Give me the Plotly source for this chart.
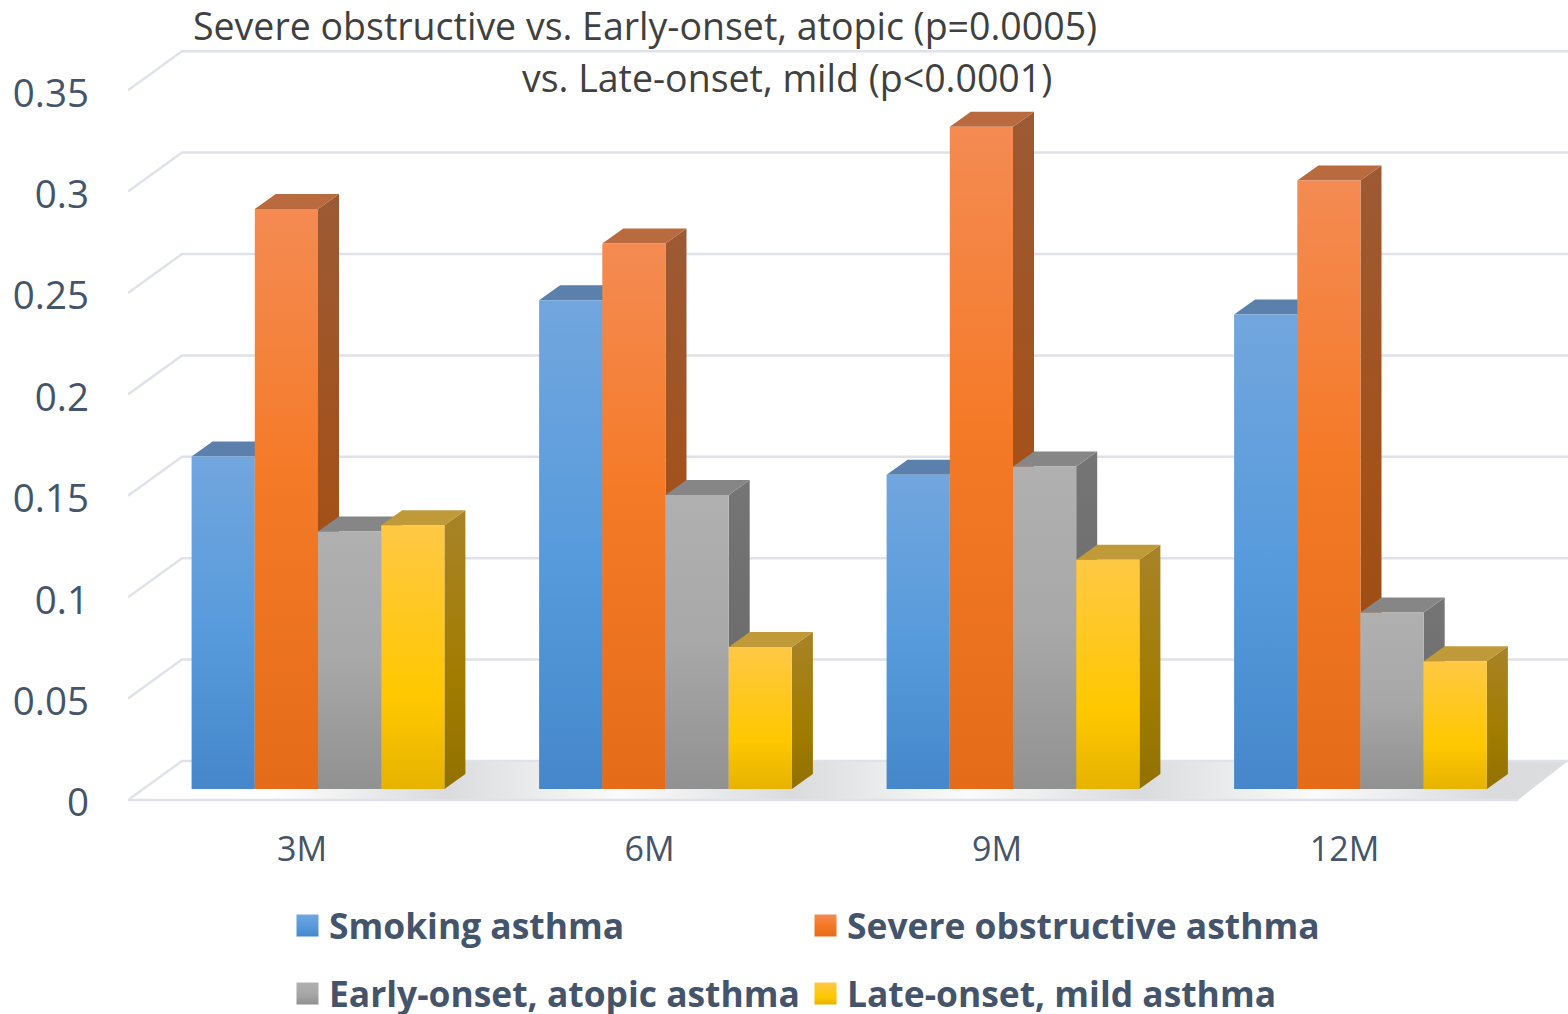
import json
import plotly.graph_objects as go

categories = ["3M", "6M", "9M", "12M"]
series_names = ["Smoking asthma", "Severe obstructive asthma",
                "Early-onset, atopic asthma", "Late-onset, mild asthma"]
smoking = [0.164, 0.241, 0.155, 0.234]
severe = [0.286, 0.269, 0.3265, 0.300]
early = [0.127, 0.145, 0.159, 0.087]
late = [0.130, 0.070, 0.113, 0.063]
y_ticks = [0, 0.05, 0.1, 0.15, 0.2, 0.25, 0.3, 0.35]
y_labels = ["0", "0.05", "0.1", "0.15", "0.2", "0.25", "0.3", "0.35"]
title_line_1 = "Severe obstructive vs. Early-onset, atopic (p=0.0005)"
title_line_2 = "vs. Late-onset, mild (p<0.0001)"

series = [smoking, severe, early, late]

# --- geometry (pixels) ---
W, H = 1568, 1014
L, T, R, B = 128, 0, 1568, 805
PX_PER_UNIT = 2028.0       # px per 1.0 of value
CAT_PX = 347.5
BAR_PX = 63.2
ZERO_FRONT, ZERO_BAR, ZERO_BACK = 800, 789, 761
DEPTH_X, DEPTH_Y = 21, 15
LABEL_X0, BAR_X0 = 302, 318
Wn = BAR_PX / CAT_PX
dxv = DEPTH_X / CAT_PX
dyv = DEPTH_Y / PX_PER_UNIT

front_colors = ["#010101", "#020202", "#030303", "#040404"]
side_colors = ["#050505", "#060606", "#070707", "#080808"]
top_colors = ["#5a80ab", "#b96a3f", "#868686", "#c09a38"]
FLOOR_KEY = "#090909"
GRID = "#dfe2ea"

fig = go.Figure()


def xlab(px):
    return (px - LABEL_X0) / CAT_PX


def ylab(py):
    return (ZERO_FRONT - py) / PX_PER_UNIT


# floor and grid on the base axes
fig.add_trace(go.Scatter(
    x=[xlab(128), xlab(182), xlab(1568), xlab(1518), xlab(128)],
    y=[ylab(800), ylab(761), ylab(761), ylab(800), ylab(800)],
    mode="lines", fill="toself", fillcolor=FLOOR_KEY, line=dict(width=0),
    hoverinfo="skip", showlegend=False))
gx, gy = [], []
for v in y_ticks:
    back = v + (ZERO_FRONT - ZERO_BACK) / PX_PER_UNIT
    gx += [xlab(128), xlab(182), xlab(1568), None]
    gy += [v, back, back, None]
gx += [xlab(128), xlab(1518), None]
gy += [0, 0, None]
fig.add_trace(go.Scatter(x=gx, y=gy, mode="lines", line=dict(color=GRID, width=2.5),
                         hoverinfo="skip", showlegend=False))

# side and top faces, computed from the values
for k, vals in enumerate(series):
    for i, v in enumerate(vals):
        left = i - 2 * Wn + k * Wn
        right = left + Wn
        fig.add_trace(go.Scatter(
            x=[right, right + dxv, right + dxv, right, right],
            y=[0, dyv, v + dyv, v, 0],
            mode="lines", fill="toself", fillcolor=side_colors[k], line=dict(width=0),
            xaxis="x2", yaxis="y2", hoverinfo="skip", showlegend=False))
        fig.add_trace(go.Scatter(
            x=[left, left + dxv, right + dxv, right, left],
            y=[v, v + dyv, v + dyv, v, v],
            mode="lines", fill="toself", fillcolor=top_colors[k], line=dict(width=0),
            xaxis="x2", yaxis="y2", hoverinfo="skip", showlegend=False))

# front faces
legend_ids = ["legend", "legend2", "legend3", "legend4"]
for k, vals in enumerate(series):
    fig.add_trace(go.Bar(
        x=list(range(len(categories))), y=vals, name=series_names[k],
        marker=dict(color=front_colors[k], line=dict(width=0)),
        xaxis="x3", yaxis="y3", legend=legend_ids[k]))

PLOT_W, PLOT_H = R - L, B - T
xr_lab = [(L - LABEL_X0) / CAT_PX, (R - LABEL_X0) / CAT_PX]
xr_bar = [(L - BAR_X0) / CAT_PX, (R - BAR_X0) / CAT_PX]
yr_lab = [(ZERO_FRONT - B) / PX_PER_UNIT, (ZERO_FRONT - T) / PX_PER_UNIT]
yr_bar = [(ZERO_BAR - B) / PX_PER_UNIT, (ZERO_BAR - T) / PX_PER_UNIT]

FONT = "Open Sans"
TXT = "#44546a"


def legend_cfg(px, py):
    return dict(x=(px - L) / PLOT_W, y=(B - py) / PLOT_H, xanchor="left", yanchor="middle",
                bgcolor="rgba(0,0,0,0)", itemclick=False, itemdoubleclick=False,
                font=dict(family=FONT, size=35.4, color=TXT, weight=700),
                itemwidth=33, tracegroupgap=0)


hidden = dict(visible=False, showgrid=False, zeroline=False, fixedrange=True)
fig.update_layout(
    width=W, height=H, autosize=False,
    margin=dict(l=L, t=T, r=W - R, b=H - B, pad=0, autoexpand=False),
    paper_bgcolor="white", plot_bgcolor="rgba(0,0,0,0)",
    barmode="group", bargap=1 - 4 * Wn, bargroupgap=0,
    font=dict(family=FONT, color=TXT),
    xaxis=dict(range=xr_lab, tickvals=list(range(len(categories))), ticktext=categories,
               showgrid=False, zeroline=False, showline=False, ticks="",
               tickfont=dict(size=34, color=TXT), ticklabelstandoff=21, fixedrange=True),
    yaxis=dict(range=yr_lab, tickvals=y_ticks, ticktext=y_labels, showgrid=False,
               zeroline=False, showline=False, ticks="",
               tickfont=dict(size=38.5, color=TXT), ticklabelstandoff=38,
               ticklabelshift=3, fixedrange=True),
    xaxis2=dict(range=xr_bar, overlaying="x", **hidden),
    yaxis2=dict(range=yr_bar, overlaying="y", **hidden),
    xaxis3=dict(range=xr_bar, overlaying="x", **hidden),
    yaxis3=dict(range=yr_bar, overlaying="y", **hidden),
    legend=legend_cfg(286, 926),
    legend2=legend_cfg(804, 926),
    legend3=legend_cfg(286, 994),
    legend4=legend_cfg(804, 994),
    annotations=[
        dict(text=title_line_1, xref="paper", yref="paper", x=(645 - L) / PLOT_W,
             y=(B - 26) / PLOT_H, showarrow=False, xanchor="center", yanchor="middle",
             font=dict(family=FONT, size=37.5, color="#404040")),
        dict(text=title_line_2.replace("<", "&lt;"), xref="paper", yref="paper",
             x=(787 - L) / PLOT_W, y=(B - 77) / PLOT_H, showarrow=False,
             xanchor="center", yanchor="middle",
             font=dict(family=FONT, size=37.5, color="#404040")),
    ],
)

# gradients keyed by placeholder colour (plotly has no gradient fill for bars)
gradients = {
    front_colors[0]: [(0, "#72a6de"), (0.55, "#569adc"), (1, "#4587ca")],
    front_colors[1]: [(0, "#f48b53"), (0.45, "#f57a28"), (1, "#e46c18")],
    front_colors[2]: [(0, "#b0b0b0"), (0.5, "#a8a8a8"), (1, "#919191")],
    front_colors[3]: [(0, "#ffc845"), (0.65, "#ffc800"), (1, "#e6b300")],
    side_colors[0]: [(0, "#4f7fb5"), (1, "#2f6299")],
    side_colors[1]: [(0, "#9c5a34"), (0.5, "#a4511a"), (1, "#98490f")],
    side_colors[2]: [(0, "#757575"), (1, "#666666")],
    side_colors[3]: [(0, "#a88328"), (0.6, "#a27c00"), (1, "#917100")],
}
floor_stops = [(128, "#ffffff"), (270, "#ffffff"), (445, "#dadbdd"), (520, "#e8e9ea"),
               (620, "#fbfbfb"), (793, "#dadbdd"), (868, "#e8e9ea"),
               (968, "#fbfbfb"), (1140, "#dadbdd"), (1215, "#e8e9ea"),
               (1315, "#fbfbfb"), (1490, "#dadbdd"), (1568, "#dcddde")]
gradients[FLOOR_KEY] = [((x - 128) / 1440, c) for x, c in floor_stops]


def rgb(h):
    return "rgb(%d, %d, %d)" % (int(h[1:3], 16), int(h[3:5], 16), int(h[5:7], 16))


grad_js = {rgb(k): {"id": "g" + k[1:], "horizontal": k == FLOOR_KEY, "stops": v}
           for k, v in gradients.items()}

post = """
(function(){
document.body.style.margin='0';
var gd=document.getElementById('{plot_id}');
var G=%s;
function apply(){
  var svg=gd.querySelector('svg.main-svg');
  if(!document.getElementById('gradDefs')){
    var ns='http://www.w3.org/2000/svg';
    var d=document.createElementNS(ns,'defs');d.id='gradDefs';
    Object.keys(G).forEach(function(k){
      var g=G[k],lg=document.createElementNS(ns,'linearGradient');
      lg.id=g.id;lg.setAttribute('x1','0');lg.setAttribute('y1','0');
      lg.setAttribute('x2',g.horizontal?'1':'0');lg.setAttribute('y2',g.horizontal?'0':'1');
      g.stops.forEach(function(s){var st=document.createElementNS(ns,'stop');
        st.setAttribute('offset',s[0]);st.setAttribute('stop-color',s[1]);lg.appendChild(st);});
      d.appendChild(lg);});
    svg.insertBefore(d,svg.firstChild);
  }
  gd.querySelectorAll('path').forEach(function(p){
    var f=p.style.fill;if(G[f]){p.style.fill='url(#'+G[f].id+')';}
  });
  gd.querySelectorAll('.legendpoints path').forEach(function(p){
    p.setAttribute('d','M11,11H-11V-11H11Z');
  });
}
apply();setTimeout(apply,50);gd.on('plotly_afterplot',apply);
})();
""" % json.dumps(grad_js)

fig.write_html("out.html", post_script=post, config={"displayModeBar": False})
